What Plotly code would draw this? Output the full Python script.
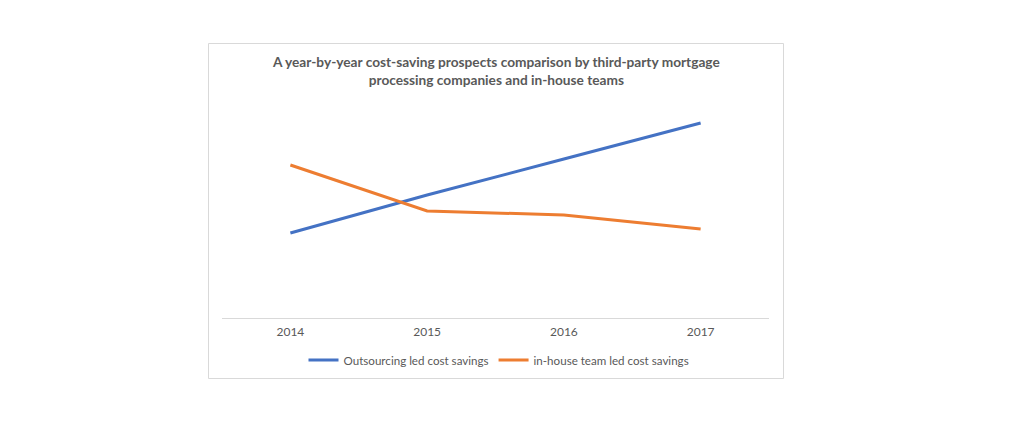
import plotly.graph_objects as go

years = ["2014", "2015", "2016", "2017"]
outsourcing = [85, 123, 159, 195]
inhouse = [153, 107, 103, 89]
title_text = "A year-by-year cost-saving prospects comparison by third-party mortgage<br>processing companies and in-house teams"

# page body has an 8px margin; work in screen pixels and subtract it
OFF = 8
L, R, T, B = 222 - OFF, 769 - OFF, 98 - OFF, 318 - OFF
W, H = 1024 - OFF, 433 - OFF
pw, ph = R - L, B - T

def px(x):
    return (x - OFF - L) / pw

def py(y):
    return (B - (y - OFF)) / ph

fig = go.Figure()
fig.add_trace(go.Scatter(x=years, y=outsourcing, mode="lines", name="Outsourcing led cost savings",
                         line=dict(color="#4472C4", width=3)))
fig.add_trace(go.Scatter(x=years, y=inhouse, mode="lines", name="in-house team led cost savings",
                         line=dict(color="#ED7D31", width=3)))

fig.update_layout(
    width=W, height=H,
    margin=dict(l=L, r=W - R, t=T, b=H - B, autoexpand=False),
    paper_bgcolor="white", plot_bgcolor="white",
    font=dict(family="Lato, Carlito, Calibri, sans-serif", color="#595959", size=12),
    showlegend=True,
    legend=dict(orientation="h", x=px(499), xanchor="center", y=py(360), yanchor="middle",
                font=dict(size=11.6, color="#595959"), itemwidth=30, tracegroupgap=0),
    xaxis=dict(type="category", range=[-0.5, 3.5], showline=True, linecolor="#D9D9D9", linewidth=1,
               showgrid=False, ticks="", zeroline=False, ticklabelstandoff=3,
               tickfont=dict(size=12, color="#595959")),
    yaxis=dict(range=[0, 220], visible=False, showgrid=False, zeroline=False),
    shapes=[dict(type="rect", xref="paper", yref="paper",
                 x0=px(208.5), x1=px(783.5), y0=py(378.5), y1=py(43.5),
                 line=dict(color="#D9D9D9", width=1), fillcolor="rgba(0,0,0,0)", layer="below")],
    annotations=[dict(text="<b>" + title_text + "</b>", xref="paper", yref="paper",
                      x=px(496), y=py(71), xanchor="center", yanchor="middle",
                      showarrow=False, align="center",
                      font=dict(size=13.7, color="#595959"))],
)

fig.write_html("out.html")
